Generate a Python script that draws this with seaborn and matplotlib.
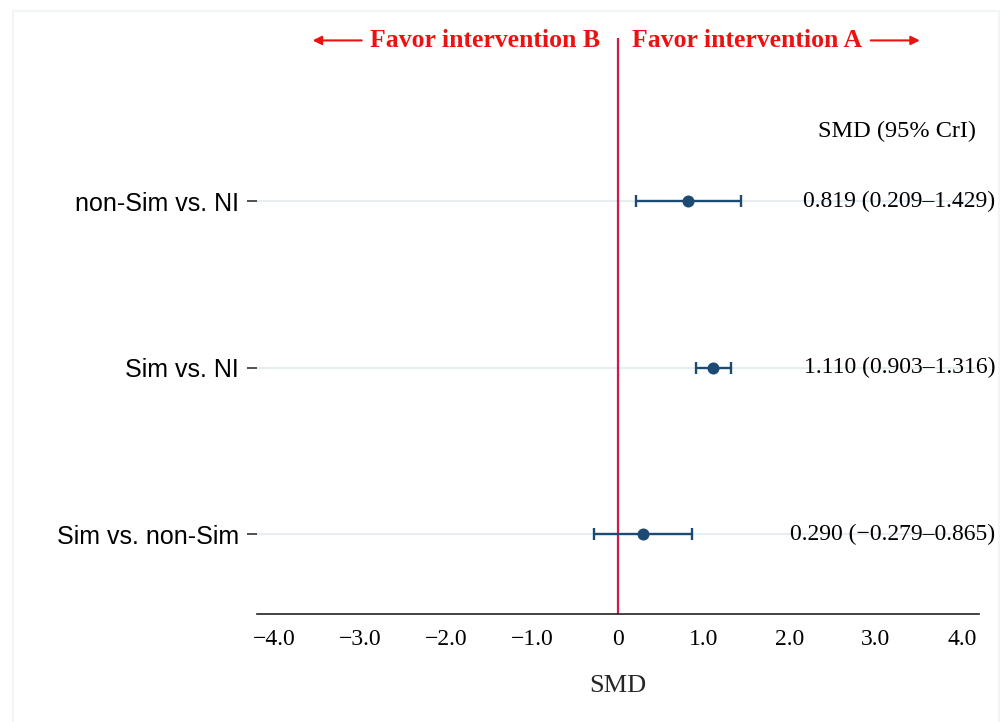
import pandas as pd
import matplotlib.pyplot as plt
import seaborn as sns
from matplotlib.patches import Rectangle

# =========================================
# Data
# =========================================
comparisons = ["non-Sim vs. NI", "Sim vs. NI", "Sim vs. non-Sim"]
smd = [0.819, 1.110, 0.290]
lower = [0.209, 0.903, -0.279]
upper = [1.429, 1.316, 0.865]
x_ticks = [-4, -3, -2, -1, 0, 1, 2, 3, 4]
x_tick_labels = ["\u22124.0", "\u22123.0", "\u22122.0", "\u22121.0", "0", "1.0", "2.0", "3.0", "4.0"]

df = pd.DataFrame({"comparison": comparisons, "smd": smd, "lower": lower, "upper": upper})

# =========================================
# Figure
# =========================================
sns.set_theme(style="white")
plt.rcParams["text.color"] = "black"
plt.rcParams["xtick.color"] = "black"
plt.rcParams["ytick.color"] = "black"
serif = "Liberation Serif"
sans = "Liberation Sans"
blue = "#1d4a72"

fig = plt.figure(figsize=(10.02, 7.22), dpi=100)
ax = fig.add_axes([0.2565, 0.1496, 0.7205, 0.7974])

# faint outer frame
fig.patches.append(Rectangle((0.013, -0.02), 0.984, 1.005, transform=fig.transFigure,
                             fill=False, edgecolor="#eef3f3", lw=1.2))

# grid lines at each comparison
for i in range(len(comparisons)):
    ax.axhline(i, color="#e7eef2", lw=1.5, zorder=0)

# reference line at 0
ax.axvline(0, color="#d3184c", lw=1.6, zorder=1)

# credible intervals
ax.errorbar(df["smd"], df["comparison"],
            xerr=[df["smd"] - df["lower"], df["upper"] - df["smd"]],
            fmt="none", ecolor=blue, elinewidth=1.7, capsize=4.5, capthick=1.7, zorder=2)
sns.scatterplot(data=df, x="smd", y="comparison", color=blue, s=75,
                edgecolor=blue, linewidth=0, ax=ax, zorder=3)

ax.set_xlim(-4.2, 4.2)
ax.set_ylim(2.48, -0.98)
ax.set_xticks(x_ticks)
ax.set_xticklabels(x_tick_labels, fontfamily=serif, fontsize=17)
ax.set_yticks(range(len(comparisons)))
ax.set_yticklabels(comparisons, fontfamily=sans, fontsize=18)
ax.set_xlabel("SMD", fontfamily=serif, fontsize=19, labelpad=18)
ax.set_ylabel("")

for side in ["top", "right", "left"]:
    ax.spines[side].set_visible(False)
ax.spines["bottom"].set_color("#222222")
ax.spines["bottom"].set_linewidth(1.2)
ax.tick_params(axis="x", direction="out", length=7, width=1.1, color="#222222", pad=4)
ax.tick_params(axis="y", direction="out", length=7, width=1.1, color="#222222", pad=6, left=True)

# estimate labels on the right
ax.text(0.9965, -0.42, "SMD (95% CrI)", transform=ax.get_yaxis_transform(),
        ha="right", va="center", fontfamily=serif, fontsize=17.5)
for i, (m, lo, hi) in enumerate(zip(smd, lower, upper)):
    label = f"{m:.3f} ({lo:.3f}\u2013{hi:.3f})".replace("-", "\u2212")
    ax.text(1.0225, i, label, transform=ax.get_yaxis_transform(),
            ha="right", va="center", fontfamily=serif, fontsize=17)

# direction header
red = "#ee1111"
fig.text(0.599, 0.944, "Favor intervention B", ha="right", va="center",
         fontfamily=serif, fontweight="bold", fontsize=18.5, color=red)
fig.text(0.631, 0.944, "Favor intervention A", ha="left", va="center",
         fontfamily=serif, fontweight="bold", fontsize=18.5, color=red)
fig.add_artist(plt.Annotation("", xy=(0.312, 0.944), xytext=(0.361, 0.944),
                              xycoords="figure fraction", textcoords="figure fraction",
                              arrowprops=dict(arrowstyle="-|>", color=red, lw=1.5,
                                              mutation_scale=13, shrinkA=0, shrinkB=0)))
fig.add_artist(plt.Annotation("", xy=(0.918, 0.944), xytext=(0.869, 0.944),
                              xycoords="figure fraction", textcoords="figure fraction",
                              arrowprops=dict(arrowstyle="-|>", color=red, lw=1.5,
                                              mutation_scale=13, shrinkA=0, shrinkB=0)))

fig.savefig("out.png", dpi=100, facecolor="white")
